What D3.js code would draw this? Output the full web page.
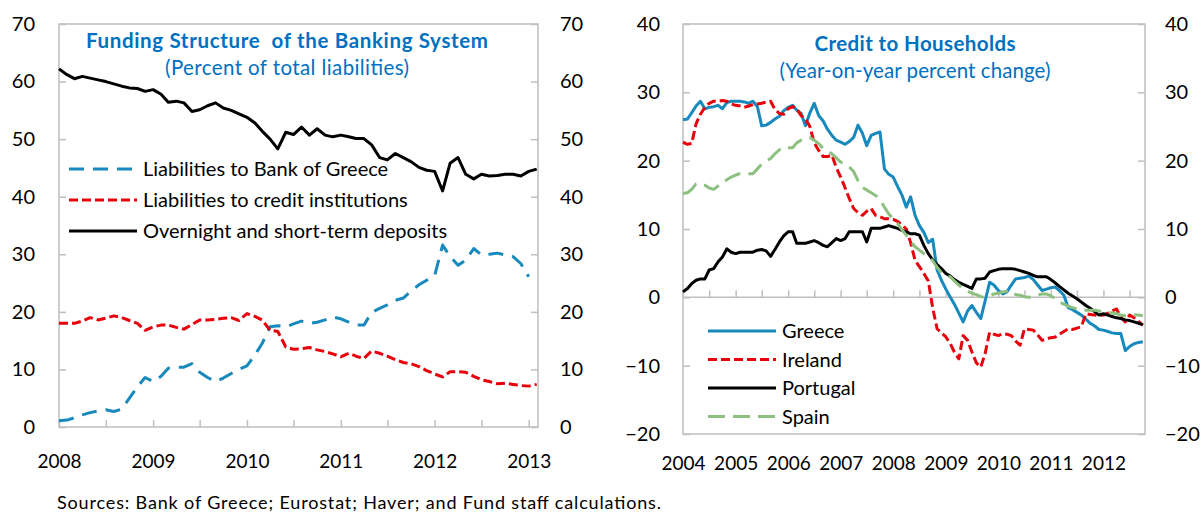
<!DOCTYPE html>
<html>
<head>
<meta charset="utf-8">
<script src="https://cdn.jsdelivr.net/npm/d3@7"></script>
<style>
  body { margin: 0; background: #fff; }
  svg { display: block; font-family: Lato, 'Open Sans', sans-serif; }
  .axis text { fill: #000; }
</style>
</head>
<body>
<div id="chart"></div>
<script>
// Left panel: funding structure, monthly Jan 2008 - Feb 2013
var fundingStart = new Date(2008, 0, 1);
var fundingYears = [2008, 2009, 2010, 2011, 2012, 2013];
var bankOfGreece = [1.1, 1.2, 1.6, 2.1, 2.5, 2.8, 3.0, 2.7, 3.1, 5.0, 7.0, 8.6, 7.9, 8.8, 10.2, 10.4,
  10.4, 11.0, 9.5, 8.6, 7.9, 8.5, 9.3, 10.0, 10.6, 12.5, 14.5, 17.4, 17.6, 17.4, 17.9, 18.4, 18.0,
  18.2, 18.6, 19.1, 18.8, 18.2, 17.7, 17.7, 19.9, 20.6, 21.2, 22.0, 22.4, 23.6, 24.7, 25.5, 26.3,
  31.6, 29.6, 28.1, 29.0, 31.0, 29.9, 30.0, 30.2, 29.9, 29.6, 28.4, 26.1];
var creditInstitutions = [18.0, 18.0, 18.0, 18.4, 19.0, 18.6, 18.9, 19.3, 19.0, 18.5, 18.0, 16.8,
  17.4, 17.7, 17.7, 17.3, 17.0, 17.8, 18.6, 18.6, 18.7, 18.9, 19.0, 18.5, 19.7, 19.2, 18.6, 16.8,
  16.6, 13.9, 13.5, 13.6, 13.8, 13.4, 13.1, 12.7, 12.2, 12.8, 12.3, 11.9, 13.2, 12.8, 12.3, 11.7,
  11.2, 11.0, 10.5, 9.8, 9.2, 8.7, 9.6, 9.6, 9.5, 8.8, 8.2, 7.9, 7.5, 7.6, 7.4, 7.2, 7.1, 7.4];
var overnightDeposits = [62.2, 61.2, 60.5, 60.9, 60.6, 60.3, 60.0, 59.6, 59.2, 58.9, 58.8, 58.3,
  58.6, 57.8, 56.4, 56.6, 56.3, 54.8, 55.1, 55.8, 56.3, 55.4, 55.0, 54.4, 53.8, 52.8, 51.4, 50.0,
  48.3, 51.2, 50.8, 52.1, 50.7, 51.8, 50.7, 50.4, 50.7, 50.4, 50.1, 50.1, 49.0, 46.8, 46.4, 47.5,
  46.8, 46.1, 45.1, 44.6, 44.4, 41.0, 45.8, 46.8, 43.9, 43.1, 43.9, 43.6, 43.7, 43.9, 43.9, 43.6,
  44.4, 44.8];

// Right panel: credit to households, monthly Jan 2004 - Oct 2012
var creditStart = new Date(2004, 0, 1);
var creditYears = [2004, 2005, 2006, 2007, 2008, 2009, 2010, 2011, 2012];
var greece = [26.0, 26.1, 27.0, 28.0, 28.7, 27.6, 27.8, 27.9, 28.1, 27.6, 28.5, 28.7, 28.7, 28.7,
  28.6, 28.4, 28.7, 27.9, 25.1, 25.2, 25.6, 26.1, 26.5, 27.3, 27.8, 28.1, 27.4, 26.9, 25.1, 27.0,
  28.4, 26.6, 25.8, 24.6, 23.7, 23.0, 22.7, 22.4, 22.8, 23.4, 25.2, 24.0, 22.2, 23.7, 24.0, 24.2,
  18.8, 18.0, 17.6, 16.2, 15.0, 13.2, 14.7, 12.0, 10.5, 9.5, 8.0, 8.5, 4.0, 2.5, 1.2, 0.0, -1.0,
  -2.3, -3.6, -2.0, -1.2, -2.2, -3.1, -0.5, 2.2, 1.8, 1.0, 0.5, 0.8, 1.8, 2.7, 2.8, 2.9, 3.1, 2.6,
  1.8, 1.0, 1.2, 1.4, 1.5, 1.0, 0.3, -1.5, -1.8, -2.2, -2.6, -3.2, -3.8, -4.2, -4.7, -4.8, -5.0,
  -5.2, -5.3, -5.3, -7.8, -7.2, -6.8, -6.6, -6.5];
var ireland = [22.7, 22.4, 22.5, 25.4, 26.8, 27.8, 28.4, 28.7, 28.7, 28.8, 28.7, 28.3, 28.1, 28.0,
  27.8, 28.0, 28.2, 28.3, 28.4, 28.6, 28.7, 27.5, 26.9, 26.8, 27.6, 27.9, 27.6, 26.6, 26.1, 25.0,
  22.6, 21.5, 20.6, 20.6, 20.8, 19.0, 17.6, 16.0, 14.5, 13.0, 12.4, 12.0, 12.6, 13.0, 12.0, 11.8,
  11.5, 11.5, 11.4, 11.1, 10.6, 10.0, 8.0, 5.4, 4.5, 3.5, 2.4, -1.5, -4.6, -5.2, -5.8, -6.8, -8.0,
  -9.0, -5.6, -6.3, -8.0, -9.6, -10.2, -8.2, -5.1, -5.4, -5.6, -5.3, -5.4, -5.6, -6.4, -7.0, -4.6,
  -4.7, -4.8, -5.5, -6.3, -6.1, -5.9, -5.8, -5.4, -5.0, -4.6, -4.7, -4.5, -4.3, -2.4, -2.5, -2.6,
  -2.7, -2.6, -2.3, -2.0, -1.7, -2.9, -3.6, -2.6, -3.0, -3.5, -4.1];
var portugal = [0.8, 1.3, 2.0, 2.5, 2.7, 2.7, 4.0, 4.2, 5.2, 5.9, 7.1, 6.6, 6.4, 6.6, 6.6, 6.6, 6.6,
  6.9, 7.0, 6.8, 6.0, 7.0, 8.1, 9.0, 9.6, 9.6, 7.9, 7.9, 7.9, 8.1, 8.3, 8.0, 7.6, 7.4, 8.0, 8.6,
  8.3, 8.6, 9.6, 9.6, 9.6, 9.6, 8.1, 10.1, 10.1, 10.1, 10.3, 10.5, 10.3, 10.1, 9.8, 9.6, 9.3, 9.3,
  9.1, 7.6, 6.4, 5.5, 4.8, 4.2, 3.5, 3.1, 2.6, 2.2, 1.9, 1.6, 1.3, 2.7, 2.7, 2.8, 3.7, 3.9, 4.1,
  4.2, 4.2, 4.2, 4.1, 3.9, 3.7, 3.5, 3.2, 3.0, 3.0, 3.0, 2.6, 2.1, 1.6, 1.1, 0.6, 0.2, -0.2, -0.7,
  -1.2, -1.6, -2.1, -2.6, -2.4, -2.6, -2.8, -3.0, -3.1, -3.3, -3.4, -3.6, -3.8, -4.0];
var spain = [15.2, 15.3, 15.8, 16.6, 16.5, 16.4, 16.0, 15.8, 16.3, 16.9, 17.2, 17.6, 17.9, 18.1,
  18.1, 18.1, 18.1, 18.8, 19.5, 20.0, 20.3, 21.0, 21.6, 22.0, 21.9, 21.9, 22.6, 23.0, 23.2, 23.4,
  23.0, 22.5, 21.8, 21.4, 21.0, 20.4, 19.8, 19.5, 19.1, 18.4, 17.1, 16.1, 15.7, 15.3, 14.9, 14.3,
  13.2, 12.2, 11.5, 10.8, 9.9, 9.1, 8.2, 7.4, 6.9, 6.4, 5.9, 5.4, 4.4, 3.6, 3.2, 3.0, 2.4, 1.8, 1.3,
  0.9, 0.6, 0.4, 0.1, 0.0, 0.2, 0.5, 0.6, 0.8, 0.9, 1.0, 0.4, 0.3, 0.1, 0.0, 0.1, 0.3, 0.5, 0.5,
  0.2, -0.2, -0.7, -1.0, -1.3, -1.5, -1.7, -1.8, -1.9, -1.9, -1.9, -2.0, -2.1, -2.2, -2.3, -2.4,
  -2.6, -2.7, -2.6, -2.6, -2.6, -2.7];

var blue = '#1789bd';
var red = '#e8000b';
var green = '#8dc080';
var black = '#000';
var gridGray = '#bfbfbf';
var titleBlue = '#0070c0';

var width = 1204;
var height = 514;

var svg = d3.select('#chart')
            .append('svg')
            .attr('width', width)
            .attr('height', height);

// Draw one panel with a box, left/right value axes and month ticks
function drawPanel(opts) {
  var x = d3.scaleTime()
            .domain(opts.xDomain)
            .range([opts.left, opts.right]);
  var y = d3.scaleLinear()
            .domain(opts.yDomain)
            .range([opts.bottom, opts.top]);

  var g = svg.append('g');

  // plot box
  g.append('rect')
   .attr('x', opts.left)
   .attr('y', opts.top)
   .attr('width', opts.right - opts.left)
   .attr('height', opts.bottom - opts.top)
   .attr('fill', 'none')
   .attr('stroke', gridGray)
   .attr('stroke-width', 1.5);

  var yTicks = d3.range(opts.yDomain[0], opts.yDomain[1] + 1, 10);

  var leftAxis = g.append('g')
                  .attr('class', 'axis')
                  .attr('transform', 'translate(' + opts.left + ',0)')
                  .call(d3.axisLeft(y).tickValues(yTicks).tickSize(-7)
                          .tickPadding(opts.leftPad).tickFormat(d3.format('d')));
  var rightAxis = g.append('g')
                   .attr('class', 'axis')
                   .attr('transform', 'translate(' + opts.right + ',0)')
                   .call(d3.axisRight(y).tickValues(yTicks).tickSize(-7)
                           .tickPadding(opts.rightPad).tickFormat(d3.format('d')));

  // month ticks on the zero line, every six months
  var halfYears = d3.timeMonth.every(6).range(opts.xDomain[0], opts.xDomain[1]);
  var tickAxis = g.append('g')
                  .attr('class', 'axis')
                  .attr('transform', 'translate(0,' + y(opts.baseValue) + ')')
                  .call(d3.axisBottom(x).tickValues(halfYears).tickSize(-7).tickFormat(''));

  // year labels below the box
  var yearDates = opts.years.map(function (yr) { return new Date(yr, 0, 1); });
  var labelAxis = g.append('g')
                   .attr('class', 'axis')
                   .attr('transform', 'translate(0,' + opts.bottom + ')')
                   .call(d3.axisBottom(x).tickValues(yearDates).tickSize(0)
                           .tickPadding(opts.xPad).tickFormat(d3.timeFormat('%Y')));

  [leftAxis, rightAxis, tickAxis, labelAxis].forEach(function (a) {
    a.select('.domain').remove();
    a.selectAll('.tick line').attr('stroke', gridGray).attr('stroke-width', 1.5);
  });
  leftAxis.selectAll('text').attr('font-size', 20).attr('font-family', 'Lato');
  rightAxis.selectAll('text').attr('font-size', 20).attr('font-family', 'Lato');
  labelAxis.selectAll('text').attr('font-size', 19).attr('font-family', 'Lato');

  if (opts.baseValue !== opts.yDomain[0]) {
    g.append('line')
     .attr('x1', opts.left)
     .attr('x2', opts.right)
     .attr('y1', y(opts.baseValue))
     .attr('y2', y(opts.baseValue))
     .attr('stroke', gridGray)
     .attr('stroke-width', 1.5);
  }

  // series
  opts.series.forEach(function (s) {
    var line = d3.line()
                 .x(function (d, i) { return x(d3.timeMonth.offset(opts.start, i)); })
                 .y(function (d) { return y(d); });
    g.append('path')
     .datum(s.values)
     .attr('d', line)
     .attr('fill', 'none')
     .attr('stroke', s.color)
     .attr('stroke-width', 3)
     .attr('stroke-linejoin', 'round')
     .attr('stroke-dasharray', s.dash);
  });

  // titles
  var cx = opts.titleX;
  g.append('text')
   .attr('x', cx)
   .attr('y', opts.titleY)
   .attr('text-anchor', 'middle')
   .attr('font-size', 20.5)
   .attr('font-weight', 'bold')
   .attr('fill', titleBlue)
   .attr('xml:space', 'preserve')
   .attr('textLength', opts.titleWidth)
   .attr('lengthAdjust', 'spacing')
   .text(opts.title);
  g.append('text')
   .attr('x', cx)
   .attr('y', opts.titleY + 27)
   .attr('text-anchor', 'middle')
   .attr('font-size', 20.5)
   .attr('fill', titleBlue)
   .attr('textLength', opts.subtitleWidth)
   .attr('lengthAdjust', 'spacing')
   .text(opts.subtitle);

  // legend
  var legend = g.append('g')
                .attr('transform', 'translate(' + opts.legendX + ',' + opts.legendY + ')');
  opts.series.forEach(function (s, i) {
    var row = legend.append('g')
                    .attr('transform', 'translate(0,' + (i * opts.legendStep) + ')');
    row.append('line')
       .attr('x1', 0)
       .attr('x2', 68)
       .attr('stroke', s.color)
       .attr('stroke-width', 3)
       .attr('stroke-dasharray', s.dash);
    row.append('text')
       .attr('x', 74)
       .attr('y', 7)
       .attr('font-size', opts.legendFont)
       .text(s.name);
  });
}

drawPanel({
  left: 59, right: 538, top: 24, bottom: 427,
  xDomain: [fundingStart, new Date(2013, 1, 6)],
  yDomain: [0, 70],
  baseValue: 0,
  start: fundingStart,
  years: fundingYears,
  leftPad: 24, rightPad: 22, xPad: 28,
  title: 'Funding Structure  of the Banking System',
  subtitle: '(Percent of total liabilities)',
  titleX: 287, titleY: 48, titleWidth: 402, subtitleWidth: 244,
  legendX: 69, legendY: 169, legendStep: 31, legendFont: 20,
  series: [
    { name: 'Liabilities to Bank of Greece', values: bankOfGreece, color: blue, dash: '15,9' },
    { name: 'Liabilities to credit institutions', values: creditInstitutions, color: red, dash: '9,4' },
    { name: 'Overnight and short-term deposits', values: overnightDeposits, color: black, dash: null }
  ]
});

drawPanel({
  left: 683, right: 1145, top: 24, bottom: 434,
  xDomain: [creditStart, new Date(2012, 9, 16)],
  yDomain: [-20, 40],
  baseValue: 0,
  start: creditStart,
  years: creditYears,
  leftPad: 23, rightPad: 20, xPad: 23,
  title: 'Credit to Households',
  subtitle: '(Year-on-year percent change)',
  titleX: 915, titleY: 51, titleWidth: 201, subtitleWidth: 271,
  legendX: 708, legendY: 331, legendStep: 28.5, legendFont: 20,
  series: [
    { name: 'Greece', values: greece, color: blue, dash: null },
    { name: 'Ireland', values: ireland, color: red, dash: '9,4' },
    { name: 'Portugal', values: portugal, color: black, dash: null },
    { name: 'Spain', values: spain, color: green, dash: '17,8' }
  ]
});

svg.append('text')
   .attr('x', 57)
   .attr('y', 509)
   .attr('font-size', 18)
   .attr('textLength', 604)
   .attr('lengthAdjust', 'spacing')
   .text('Sources: Bank of Greece; Eurostat; Haver; and Fund staff calculations.');
</script>
</body>
</html>
